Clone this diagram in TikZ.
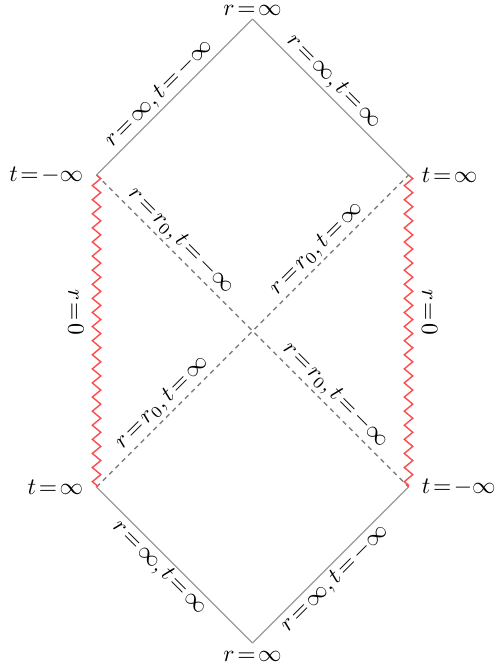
\documentclass[tikz,border=0pt]{standalone}
\usepackage{amsmath,amssymb}
\usepackage{xcolor}
\usetikzlibrary{positioning,calc,decorations.pathmorphing}

\begin{document}
\begin{tikzpicture}[
    x=2.333cm, y=2.333cm,
    edge/.style={gray!80, line width=0.5pt},
    horizon/.style={gray, line width=0.6pt, dash pattern=on 2pt off 1.8pt},
    singular/.style={red!70, line width=0.6pt, decorate, decoration={zigzag, amplitude=1.8pt, segment length=6pt}},
    lab/.style={sloped, text=black, inner sep=1.2pt},
    corner/.style={inner sep=0pt}
]
    \useasboundingbox (-1.619,-2.167) rectangle (1.561,2.122);

    % Corners
    \coordinate (top) at (0,2);
    \coordinate (tl) at (-1,1);
    \coordinate (tr) at (1,1);
    \coordinate (bl) at (-1,-1);
    \coordinate (br) at (1,-1);
    \coordinate (bot) at (0,-2);

    % Boundaries at infinity
    \draw[edge] (tl) -- (top) node[lab, pos=0.46, above] (infTL) {$r\!=\!\infty,t\!=\!-\infty$};
    \draw[edge] (top) -- (tr) node[lab, pos=0.46, above] (infTR) {$r\!=\!\infty,t\!=\!\infty$};
    \draw[edge] (bl) -- (bot) node[lab, pos=0.46, below] (infBL) {$r\!=\!\infty,t\!=\!\infty$};
    \draw[edge] (bot) -- (br) node[lab, pos=0.47, below] (infBR) {$r\!=\!\infty,t\!=\!-\infty$};

    % Horizons
    \draw[horizon] (tl) -- (br)
        node[lab, pos=0.24, above] (hor1) {$r\!=\!r_0,t\!=\!-\infty$}
        node[lab, pos=0.735, above] (hor2) {$r\!=\!r_0,t\!=\!-\infty$};
    \draw[horizon] (bl) -- (tr)
        node[lab, pos=0.24, above] (hor3) {$r\!=\!r_0,t\!=\!\infty$}
        node[lab, pos=0.735, above] (hor4) {$r\!=\!r_0,t\!=\!\infty$};

    % Singularities
    \draw[singular] (tl) -- (bl);
    \draw[singular] (tr) -- (br);
    \path (tl) -- (bl) node[sloped, pos=0.44, below, inner sep=5.3pt] (singL) {$r\!=\!0$};
    \path (tr) -- (br) node[sloped, pos=0.44, above, inner sep=5.6pt] (singR) {$r\!=\!0$};

    % Corner labels
    \node[corner, above=1.2pt of top] (rTop) {$r\!=\!\infty$};
    \node[corner, below=3.4pt of bot] (rBot) {$r\!=\!\infty$};
    \node[corner, left=5.5pt of tl] (tTL) {$t\!=\!-\infty$};
    \node[corner, right=5.5pt of tr] (tTR) {$t\!=\!\infty$};
    \node[corner, left=5.5pt of bl] (tBL) {$t\!=\!\infty$};
    \node[corner, right=5.5pt of br] (tBR) {$t\!=\!-\infty$};
\end{tikzpicture}
\end{document}
